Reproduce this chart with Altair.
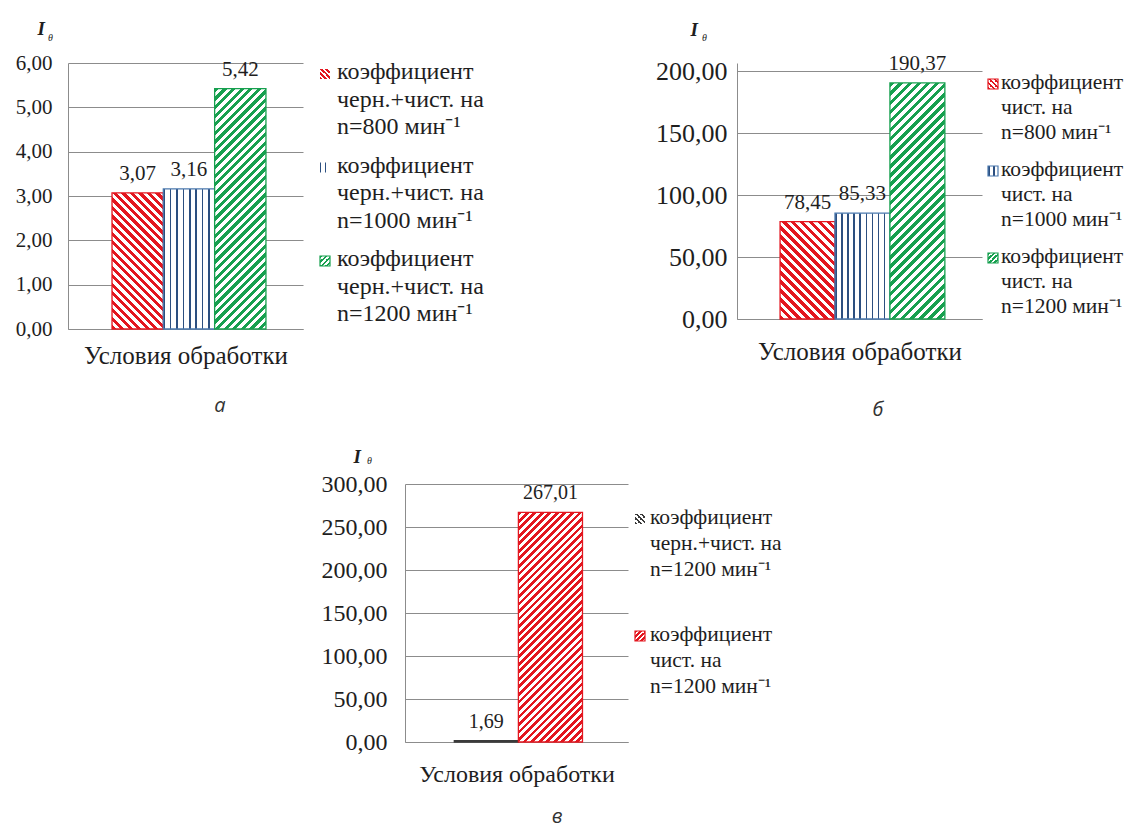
import altair as alt
import pandas as pd

# ---------------- data ----------------
CATEGORY = "Условия обработки"
Y_TITLE = "I"
Y_SUB = "θ"
captions = ["а", "б", "в"]

# panel а
a_series = ["черн.+чист. n=800", "черн.+чист. n=1000", "черн.+чист. n=1200"]
a_values = [3.07, 3.16, 5.42]
a_ticks = [0, 1, 2, 3, 4, 5, 6]
a_legend = [
    "коэффициент\nчерн.+чист. на\nn=800 мин⁻¹",
    "коэффициент\nчерн.+чист. на\nn=1000  мин⁻¹",
    "коэффициент\nчерн.+чист. на\nn=1200  мин⁻¹",
]

# panel б
b_series = ["чист. n=800", "чист. n=1000", "чист. n=1200"]
b_values = [78.45, 85.33, 190.37]
b_ticks = [0, 50, 100, 150, 200]
b_legend = [
    "коэффициент\nчист. на\nn=800 мин⁻¹",
    "коэффициент\nчист. на\nn=1000 мин⁻¹",
    "коэффициент\nчист. на\nn=1200 мин⁻¹",
]

# panel в
c_series = ["черн.+чист. n=1200", "чист. n=1200"]
c_values = [1.69, 267.01]
c_ticks = [0, 50, 100, 150, 200, 250, 300]
c_legend = [
    "коэффициент\nчерн.+чист. на\nn=1200  мин⁻¹",
    "коэффициент\nчист. на\nn=1200  мин⁻¹",
]

# ---------------- style ----------------
FONT = "Liberation Serif"
CAP_FONT = "Open Sans"
TEXT = "#1e1e1e"
GRID = "#8c8c8c"
RED = "#e3161f"
BLUE_EDGE = "#4a78ad"
BLUE_LINE = "#2c4f80"
GREEN = "#17a04f"
DARK = "#3a3a3a"


def grad(color, n, x1, y1, x2, y2, duty):
    stops = []
    for i in range(n):
        o0 = i / n
        o1 = (i + duty) / n
        o2 = (i + 1) / n
        stops += [
            {"offset": o0, "color": color},
            {"offset": o1, "color": color},
            {"offset": o1, "color": "#ffffff"},
            {"offset": o2, "color": "#ffffff"},
        ]
    return {"gradient": "linear", "x1": x1, "y1": y1, "x2": x2, "y2": y2, "stops": stops}


def hatch(kind, color, w, h, period, duty):
    if kind == "vert":
        n = max(1, round(w / period))
        return grad(color, n, 0, 0, 1, 0, duty)
    c = (w + h) / (w * w + h * h)
    n = max(1, round((w + h) / period))
    if kind == "back":
        return grad(color, n, 0, 1, c * w, 1 - c * h, duty)
    return grad(color, n, 0, 0, c * w, c * h, duty)


LABEL_EXPR = "replace(format(datum.value, '.2f'), '.', ',')"


def build(series, values, ticks, legend, caption, P):
    W, H, ymax = P["W"], P["H"], P["ymax"]
    n = len(series)
    df = pd.DataFrame({"series": series, "value": values})
    bw = W / (n + 2 * P["po"])
    xs = alt.Scale(domain=series, paddingInner=0, paddingOuter=P["po"], align=P["al"])
    ys = alt.Scale(domain=[0, ymax], nice=False, zero=True)
    x_axis = alt.Axis(
        labels=False, ticks=False, grid=False,
        domainColor=GRID, domainWidth=1,
        title=CATEGORY, titleFont=FONT, titleFontSize=P["xfs"], titleFontWeight="normal",
        titleColor=TEXT, titlePadding=P["xpad"], titleBaseline="top",
    )
    y_axis = alt.Axis(
        values=ticks, labelExpr=LABEL_EXPR, grid=True, gridColor=GRID, gridWidth=1,
        domain=True, domainColor=GRID, domainWidth=1, ticks=False,
        labelFont=FONT, labelFontSize=P["yfs"], labelColor=TEXT,
        labelPadding=P["ypad"], labelFlush=False, labelOverlap=False,
        title=Y_TITLE, titleFont=FONT, titleFontSize=19, titleFontStyle="italic",
        titleFontWeight="bold", titleAngle=0, titleAlign="left",
        titleBaseline="alphabetic", titleX=P["tx"], titleY=P["ty"], titleColor=TEXT,
    )
    X = alt.X("series:N", scale=xs, axis=x_axis, sort=series)
    Y = alt.Y("value:Q", scale=ys, axis=y_axis)
    layers = []
    for i, (s, v) in enumerate(zip(series, values)):
        st = P["bars"][i]
        h = max(v / ymax * H, 1.0)
        fill = hatch(st["kind"], st["line"], bw, h, st["period"], st["duty"])
        layers.append(
            alt.Chart(df)
            .transform_filter(alt.datum.series == s)
            .mark_bar(fill=fill, stroke=st["edge"], strokeWidth=1.3)
            .encode(x=X, y=Y)
        )
    # value labels
    layers.append(
        alt.Chart(df)
        .transform_calculate(label=LABEL_EXPR)
        .mark_text(dy=-19, baseline="middle", font=FONT, fontSize=P["vfs"], color=TEXT)
        .encode(x=X, y=Y, text="label:N")
    )
    # subscript theta
    layers.append(
        alt.Chart(pd.DataFrame({"t": [Y_SUB]}))
        .mark_text(align="left", baseline="alphabetic", font=FONT, fontSize=10,
                   fontStyle="italic", color=TEXT)
        .encode(x=alt.value(P["sx"]), y=alt.value(P["sy"]), text="t:N")
    )
    # legend
    L = P["leg"]
    ldf = pd.DataFrame({"t": legend, "i": list(range(len(legend)))})
    for i in range(len(legend)):
        st = L["sym"][i]
        yy = L["first"] + i * L["step"]
        kw = dict(size=100, fill=hatch(st["kind"], st["line"], 10, 10, st["period"], st["duty"]),
                  opacity=1)
        if st.get("edge"):
            kw.update(stroke=st["edge"], strokeWidth=1.2)
        else:
            kw.update(strokeWidth=0)
        layers.append(
            alt.Chart(ldf)
            .transform_filter(alt.datum.i == i)
            .mark_square(**kw)
            .encode(x=alt.value(W + L["sym_dx"]), y=alt.value(yy))
        )
        layers.append(
            alt.Chart(ldf)
            .transform_filter(alt.datum.i == i)
            .mark_text(align="left", baseline="top", lineBreak="\n", lineHeight=L["lh"],
                       font=FONT, fontSize=L["fs"], color=TEXT, dy=-0.57 * L["fs"])
            .encode(x=alt.value(W + L["txt_dx"]), y=alt.value(yy), text="t:N")
        )
    return alt.layer(*layers).properties(
        width=W, height=H,
        title=alt.TitleParams(
            text=caption, orient="bottom", anchor="middle", frame="group",
            dx=P["cdx"], offset=P["coff"], font=CAP_FONT, fontStyle="italic",
            fontWeight="normal", fontSize=20, color="#333333",
        ),
    )


PA = dict(
    W=235, H=266, ymax=6, po=0.79, al=0.543, xfs=25, xpad=14, yfs=21, ypad=16, vfs=21,
    tx=-31, ty=-29, sx=-20, sy=-22, cdx=34.5, coff=28,
    bars=[
        dict(kind="back", line=RED, edge=RED, period=8.7, duty=0.5),
        dict(kind="vert", line=BLUE_LINE, edge=BLUE_EDGE, period=6.2, duty=0.25),
        dict(kind="fwd", line=GREEN, edge=GREEN, period=8.7, duty=0.5),
    ],
    leg=dict(sym_dx=22, txt_dx=34, first=11, step=93.5, lh=27.5, fs=24,
             sym=[dict(kind="back", line=RED, period=5, duty=0.45),
                  dict(kind="vert", line=BLUE_LINE, period=4, duty=0.3),
                  dict(kind="fwd", line=GREEN, period=5, duty=0.45, edge=GREEN)]),
)
PB = dict(
    W=245, H=256, ymax=200 * 256 / 248, po=0.73, al=0.537, xfs=25, xpad=20, yfs=26, ypad=10, vfs=21,
    tx=-47, ty=-28, sx=-35, sy=-22, cdx=18.5, coff=36,
    bars=[
        dict(kind="back", line=RED, edge=RED, period=9, duty=0.5),
        dict(kind="vert", line=BLUE_LINE, edge=BLUE_EDGE, period=6.2, duty=0.25),
        dict(kind="fwd", line=GREEN, edge=GREEN, period=9, duty=0.5),
    ],
    leg=dict(sym_dx=11, txt_dx=19, first=21, step=87, lh=25, fs=21.5,
             sym=[dict(kind="back", line=RED, period=5, duty=0.45, edge=RED),
                  dict(kind="vert", line=BLUE_LINE, period=5, duty=0.3, edge=BLUE_EDGE),
                  dict(kind="fwd", line=GREEN, period=5, duty=0.45, edge=GREEN)]),
)
PC = dict(
    W=223, H=258, ymax=300, po=0.74, al=0.52, xfs=24, xpad=20, yfs=24, ypad=18, vfs=20,
    tx=-52, ty=-22, sx=-38, sy=-20, cdx=40.5, coff=21,
    bars=[
        dict(kind="back", line=DARK, edge=DARK, period=7.5, duty=0.5),
        dict(kind="fwd", line=RED, edge=RED, period=7.5, duty=0.5),
    ],
    leg=dict(sym_dx=12, txt_dx=22, first=35, step=117, lh=26, fs=21.5,
             sym=[dict(kind="back", line=DARK, period=5, duty=0.45),
                  dict(kind="fwd", line=RED, period=5, duty=0.45, edge=RED)]),
)

panel_a = build(a_series, a_values, a_ticks, a_legend, captions[0], PA)
panel_b = build(b_series, b_values, b_ticks, b_legend, captions[1], PB)
panel_c = build(c_series, c_values, c_ticks, c_legend, captions[2], PC)


def spacer(w, h):
    return (
        alt.Chart(pd.DataFrame({"s": [0]}))
        .mark_point(opacity=0)
        .encode(x=alt.value(0), y=alt.value(0))
        .properties(width=w, height=h)
    )


chart = (
    alt.concat(
        panel_a, spacer(230, 1), panel_b,
        spacer(10, 1), panel_c,
        columns=3,
        spacing={"row": 155, "column": 102},
        bounds="flush",
        align="none",
    )
    .properties(padding={"left": 7, "top": 11, "right": 0, "bottom": 2}, background="white")
    .configure_view(stroke=None)
)

chart.save("out.html", embed_options={"renderer": "svg", "actions": False})
